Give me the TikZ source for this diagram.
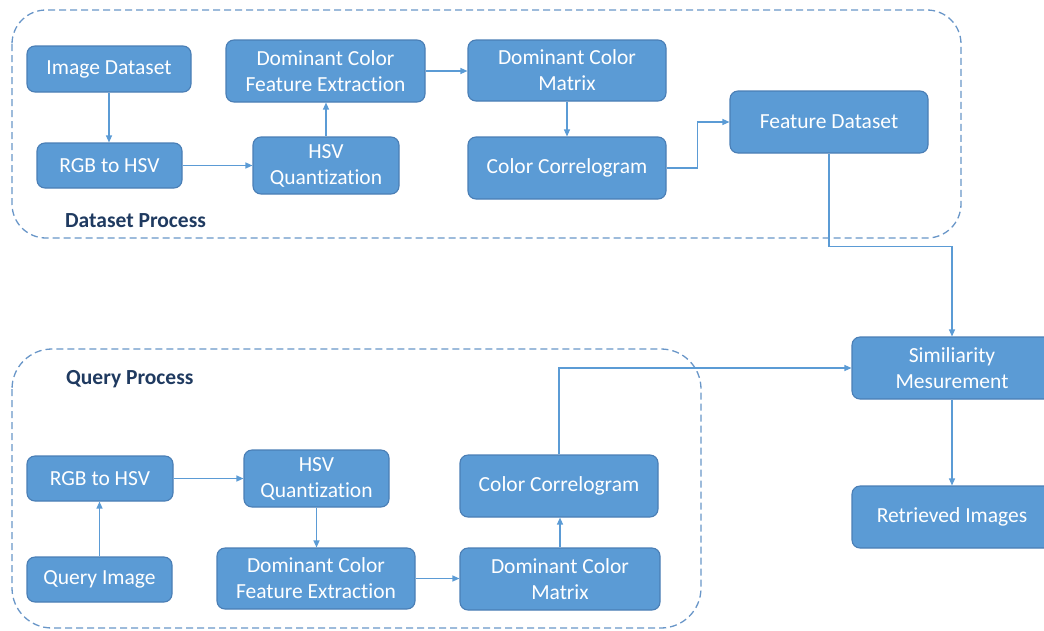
\documentclass[tikz,border=0pt]{standalone}
\usepackage{fontspec}
\setmainfont{Carlito}[Ligatures=NoCommon]
\usetikzlibrary{arrows.meta}
\definecolor{boxfill}{HTML}{5B9BD5}
\definecolor{boxline}{HTML}{4A7EB5}
\definecolor{flow}{HTML}{5B9BD5}
\definecolor{grpline}{HTML}{6996C8}
\definecolor{grptext}{HTML}{1F3A60}
\tikzset{
  box/.style={draw=boxline, line width=1.1pt, fill=boxfill, rounded corners=8pt,
    text=white, align=center, inner sep=0pt,
    font=\fontsize{21.5}{26}\selectfont},
  flowline/.style={draw=flow, line width=1.2pt, -{Triangle[length=7pt,width=6pt]}},
  groupbox/.style={draw=grpline, line width=1.3pt, dash pattern=on 7pt off 4pt, rounded corners=34pt},
  grouplabel/.style={anchor=west, text=grptext, inner sep=0pt,
    font=\bfseries\fontsize{21.5}{26}\selectfont}
}
\begin{document}
\begin{tikzpicture}[x=1pt, y=-1pt]
\useasboundingbox (0,0) rectangle (1044,630);

% process groups
\draw[groupbox] (12,10) rectangle (961,238);
\draw[groupbox, rounded corners=40pt] (12,349) rectangle (701,628);
\node[grouplabel] (dsproc) at (65,221) {Dataset Process};
\node[grouplabel] (qproc) at (66,379) {Query Process};

% dataset process
\node[box, minimum width=164pt, minimum height=46pt] (imgds) at (109,69) {Image Dataset};
\node[box, minimum width=145pt, minimum height=45pt] (rgbT) at (109.5,165.5) {RGB to HSV};
\node[box, minimum width=146pt, minimum height=57pt] (hsvT) at (326,165.5) {HSV\\Quantization};
\node[box, minimum width=199pt, minimum height=62pt] (dcfeT) at (325.5,71) {Dominant Color\\Feature Extraction};
\node[box, minimum width=198pt, minimum height=61pt] (dcmT) at (567,70.5) {Dominant Color\\Matrix};
\node[box, minimum width=198pt, minimum height=62pt] (ccT) at (567,168) {Color Correlogram};
\node[box, minimum width=198pt, minimum height=62pt] (featds) at (829,122) {Feature Dataset};

% matching and output
\node[box, minimum width=200pt, minimum height=62pt] (sim) at (952,368) {Similiarity\\Mesurement};
\node[box, minimum width=200pt, minimum height=62pt] (ret) at (952,517) {Retrieved Images};

% query process
\node[box, minimum width=146pt, minimum height=45pt] (rgbQ) at (100,478.5) {RGB to HSV};
\node[box, minimum width=145pt, minimum height=57pt] (hsvQ) at (316.5,478.5) {HSV\\Quantization};
\node[box, minimum width=145pt, minimum height=45pt] (qimg) at (99.5,579.5) {Query Image};
\node[box, minimum width=198pt, minimum height=61pt] (dcfeQ) at (316,578.5) {Dominant Color\\Feature Extraction};
\node[box, minimum width=198pt, minimum height=62pt] (ccQ) at (559,486) {Color Correlogram};
\node[box, minimum width=200pt, minimum height=62pt] (dcmQ) at (560,579) {Dominant Color\\Matrix};

% dataset flow
\draw[flowline] (imgds.south) -- (imgds.south |- rgbT.north);
\draw[flowline] (rgbT.east) -- (rgbT.east -| hsvT.west);
\draw[flowline] (hsvT.north) -- (hsvT.north |- dcfeT.south);
\draw[flowline] (dcfeT.east) -- (dcfeT.east -| dcmT.west);
\draw[flowline] (dcmT.south) -- (dcmT.south |- ccT.north);
\draw[flowline] (ccT.east) -- ++(31,0) |- (featds.west);
\draw[flowline] (featds.south) -- ++(0,93) -| (sim.north);

% query flow
\draw[flowline] (qimg.north) -- (qimg.north |- rgbQ.south);
\draw[flowline] (rgbQ.east) -- (rgbQ.east -| hsvQ.west);
\draw[flowline] (hsvQ.south) -- (hsvQ.south |- dcfeQ.north);
\draw[flowline] (dcfeQ.east) -- (dcfeQ.east -| dcmQ.west);
\draw[flowline] (dcmQ.north) -- (dcmQ.north |- ccQ.south);
\draw[flowline] (ccQ.north) |- (sim.west);

% result
\draw[flowline] (sim.south) -- (ret.north);
\end{tikzpicture}
\end{document}
